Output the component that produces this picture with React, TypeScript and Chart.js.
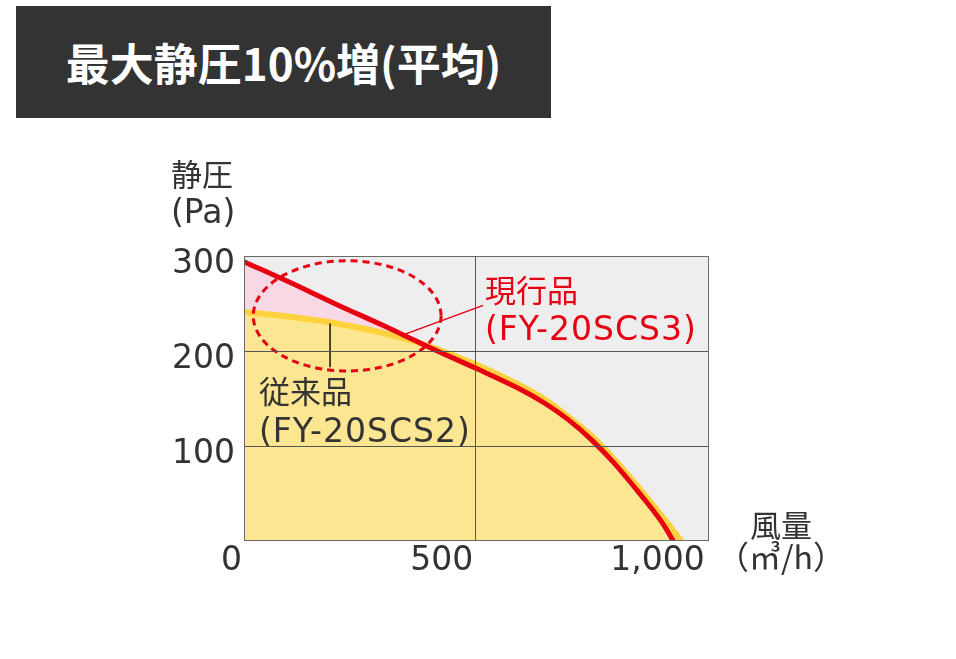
import { useEffect, useRef } from "react";
import { Chart, registerables } from "chart.js";

Chart.register(...registerables);

// 現行品 (FY-20SCS3)
const currentFlow = [0, 100, 200, 300, 400, 500, 600, 650, 700, 750, 800, 850, 900, 928];
const currentPressure = [294, 272, 249, 227, 204, 182, 159, 145, 128, 107, 82, 53, 22, 0];
// 従来品 (FY-20SCS2)
const previousFlow = [0, 100, 200, 300, 400, 500, 600, 650, 700, 750, 800, 850, 900, 945];
const previousPressure = [241, 236, 229, 219, 205, 186, 163, 149, 131, 111, 86, 58, 28, 0];

const yTickValues = [0, 100, 200, 300];
const xTickValues = [0, 500, 1000];

// callouts, in data units
const ellipseCenter = { x: 223, y: 237 };
const ellipseRadius = { x: 203, y: 58 };
const currentLeader = [
  { x: 344, y: 217 },
  { x: 517, y: 248 },
];
const previousLeader = [
  { x: 186, y: 229 },
  { x: 186, y: 183 },
];

const RED = "#e60012";
const YELLOW_LINE = "#fdd23c";
const YELLOW_FILL = "#fde691";
const PINK_FILL = "#f8d8e4";
const TEXT = "#333333";
const FONT = "'Noto Sans CJK JP', 'Noto Sans', sans-serif";
const LATIN = "'DejaVu Sans', 'Noto Sans CJK JP', sans-serif";

const decorations = {
  id: "decorations",
  beforeDraw(chart: Chart) {
    const { ctx, chartArea: a } = chart;
    ctx.save();
    ctx.fillStyle = "#eeeeee";
    ctx.fillRect(a.left, a.top, a.right - a.left, a.bottom - a.top);
    ctx.restore();
  },
  afterDatasetsDraw(chart: Chart) {
    const { ctx } = chart;
    const xs = chart.scales.x;
    const ys = chart.scales.y;
    ctx.save();
    // dashed ellipse
    const cx = xs.getPixelForValue(ellipseCenter.x);
    const cy = ys.getPixelForValue(ellipseCenter.y);
    const rx = xs.getPixelForValue(ellipseCenter.x + ellipseRadius.x) - cx;
    const ry = cy - ys.getPixelForValue(ellipseCenter.y + ellipseRadius.y);
    ctx.strokeStyle = RED;
    ctx.lineWidth = 3;
    ctx.setLineDash([7, 5]);
    ctx.beginPath();
    ctx.ellipse(cx, cy, rx, ry, 0, 0, Math.PI * 2);
    ctx.stroke();
    ctx.setLineDash([]);
    // leader to 現行品
    ctx.lineWidth = 1.5;
    ctx.beginPath();
    ctx.moveTo(xs.getPixelForValue(currentLeader[0].x), ys.getPixelForValue(currentLeader[0].y));
    ctx.lineTo(xs.getPixelForValue(currentLeader[1].x), ys.getPixelForValue(currentLeader[1].y));
    ctx.stroke();
    // leader to 従来品
    ctx.strokeStyle = "#111111";
    ctx.beginPath();
    ctx.moveTo(xs.getPixelForValue(previousLeader[0].x), ys.getPixelForValue(previousLeader[0].y));
    ctx.lineTo(xs.getPixelForValue(previousLeader[1].x), ys.getPixelForValue(previousLeader[1].y));
    ctx.stroke();
    ctx.restore();
  },
  afterDraw(chart: Chart) {
    const { ctx, chartArea: a } = chart;
    ctx.save();
    ctx.strokeStyle = "#6a6a6a";
    ctx.lineWidth = 1;
    ctx.strokeRect(a.left + 0.5, a.top + 0.5, a.right - a.left - 1, a.bottom - a.top - 1);
    ctx.restore();
  },
};

function PressureChart() {
  const canvasRef = useRef<HTMLCanvasElement>(null);

  useEffect(() => {
    const canvas = canvasRef.current;
    if (!canvas) return;

    const chart = new Chart(canvas, {
      type: "line",
      data: {
        datasets: [
          {
            label: "現行品",
            data: currentFlow.map((x, i) => ({ x, y: currentPressure[i] })),
            borderColor: RED,
            borderWidth: 5,
            pointRadius: 0,
            tension: 0.35,
            fill: { target: 1, above: PINK_FILL, below: "rgba(0,0,0,0)" },
          },
          {
            label: "従来品",
            data: previousFlow.map((x, i) => ({ x, y: previousPressure[i] })),
            borderColor: YELLOW_LINE,
            backgroundColor: YELLOW_FILL,
            borderWidth: 6,
            pointRadius: 0,
            tension: 0.35,
            fill: "origin",
          },
        ],
      },
      options: {
        responsive: false,
        animation: false,
        layout: { padding: { left: 164, top: 256, right: 247, bottom: 68 } },
        plugins: {
          legend: { display: false },
          tooltip: { enabled: false },
          filler: { drawTime: "beforeDatasetsDraw" },
        },
        scales: {
          x: {
            type: "linear",
            min: 0,
            max: 1005,
            afterFit: (s: any) => {
              s.height = 50;
            },
            afterBuildTicks: (s: any) => {
              s.ticks = xTickValues.map((value) => ({ value }));
            },
            ticks: {
              includeBounds: false,
              align: "end",
              labelOffset: -2,
              padding: 1,
              color: TEXT,
              font: { family: LATIN, size: 33 },
              callback: (v: any) => Number(v).toLocaleString("en-US"),
            },
            grid: {
              z: 1,
              drawTicks: false,
              color: (c: any) => (c.tick && c.tick.value === 500 ? "#555555" : "rgba(0,0,0,0)"),
            },
            border: { display: false },
          },
          y: {
            min: 0,
            max: 300,
            afterFit: (s: any) => {
              s.width = 80;
            },
            afterBuildTicks: (s: any) => {
              s.ticks = yTickValues.map((value) => ({ value }));
            },
            ticks: {
              padding: 9,
              labelOffset: 8,
              color: TEXT,
              font: { family: LATIN, size: 33 },
              callback: (v: any) => (Number(v) === 0 ? "" : String(v)),
            },
            grid: {
              z: 1,
              drawTicks: false,
              color: (c: any) =>
                c.tick && (c.tick.value === 100 || c.tick.value === 200) ? "#555555" : "rgba(0,0,0,0)",
            },
            border: { display: false },
          },
        },
      },
      plugins: [decorations],
    });

    return () => chart.destroy();
  }, []);

  return (
    <canvas
      ref={canvasRef}
      width={956}
      height={659}
      style={{ position: "absolute", left: 0, top: 0 }}
    />
  );
}

export default function App() {
  const text = { position: "absolute" as const, fontFamily: FONT, whiteSpace: "nowrap" as const };
  const latin = { fontFamily: LATIN, fontSize: 33, letterSpacing: 1 };
  return (
    <div style={{ position: "absolute", left: 0, top: 0, width: 956, height: 659, background: "#fff", overflow: "hidden" }}>
      <PressureChart />
      <div
        style={{
          ...text,
          left: 16,
          top: 6,
          width: 535,
          height: 112,
          background: "#333333",
          color: "#fff",
          fontWeight: 700,
          fontSize: 44,
          display: "flex",
          alignItems: "center",
          justifyContent: "center",
        }}
      >
        最大静圧10%増(平均)
      </div>
      <div style={{ ...text, left: 171, top: 154, fontSize: 31, lineHeight: "37px", color: TEXT }}>
        静圧
        <br />
        <span style={{ ...latin, letterSpacing: 0 }}>(Pa)</span>
      </div>
      <div style={{ ...text, left: 721, top: 507, width: 120, textAlign: "center", fontSize: 31, lineHeight: "34px", color: TEXT }}>
        風量
      </div>
      <div style={{ ...text, left: 716, top: 537, width: 130, textAlign: "center", fontSize: 32, lineHeight: "36px", color: TEXT }}>
        （㎥/h）
      </div>
      <div style={{ ...text, left: 485, top: 270, fontSize: 31, lineHeight: "38px", color: RED }}>
        現行品
        <br />
        <span style={latin}>(FY-20SCS3)</span>
      </div>
      <div style={{ ...text, left: 259, top: 370, fontSize: 31, lineHeight: "39px", color: TEXT }}>
        従来品
        <br />
        <span style={latin}>(FY-20SCS2)</span>
      </div>
    </div>
  );
}
